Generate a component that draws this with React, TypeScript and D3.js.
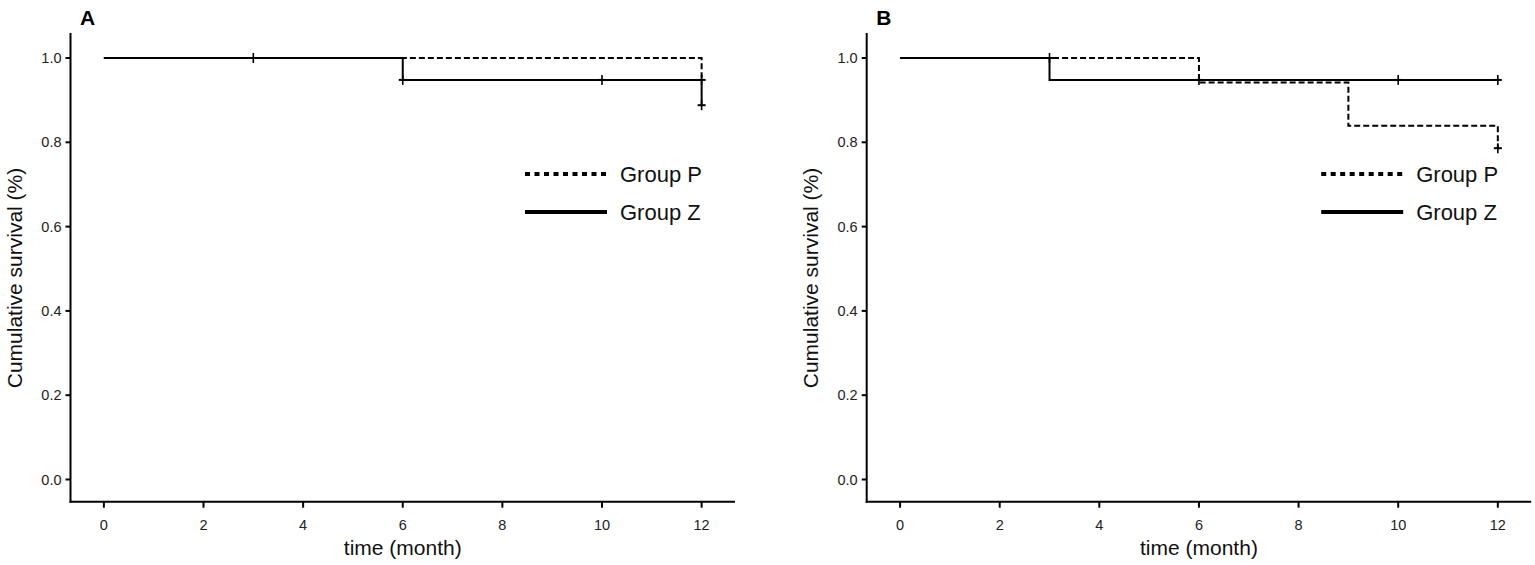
import React from "react";
import * as d3 from "d3";

// Panel A data
const aPTime = [0, 12];
const aPSurv = [1.0, 0.95];
const aZTime = [0, 6, 12];
const aZSurv = [1.0, 0.948, 0.888];
const aPCensorTime = [3];
const aPCensorSurv = [1.0];
const aZCensorTime = [6, 10, 12, 12];
const aZCensorSurv = [0.948, 0.948, 0.948, 0.888];

// Panel B data
const bPTime = [0, 6, 9, 12];
const bPSurv = [1.0, 0.942, 0.839, 0.786];
const bZTime = [0, 3, 12];
const bZSurv = [1.0, 0.948, 0.948];
const bPCensorTime = [3, 12];
const bPCensorSurv = [1.0, 0.786];
const bZCensorTime = [6, 10, 12];
const bZCensorSurv = [0.948, 0.948, 0.948];

const xTicks = [0, 2, 4, 6, 8, 10, 12];
const yTicks = [0, 0.2, 0.4, 0.6, 0.8, 1.0];
const groupNames = ["Group P", "Group Z"];
const panelLabels = ["A", "B"];

const FONT = "'Liberation Sans', Arial, Helvetica, sans-serif";

type Series = { time: number[]; surv: number[]; ct: number[]; cs: number[]; dashed: boolean };

function Panel({ ox, label, series }: { ox: number; label: string; series: Series[] }) {
  const axisX = ox + 70.5;
  const x = d3.scaleLinear().domain([-0.67, 12.67]).range([axisX, ox + 735]);
  const y = d3.scaleLinear().domain([0, 1]).range([479.5, 58]);
  const axisY = 501.7;
  const axisTop = 33;
  const line = d3
    .line<[number, number]>()
    .x((d) => x(d[0]))
    .y((d) => y(d[1]))
    .curve(d3.curveStepAfter);
  const order = [...series].sort((a, b) => (a.dashed === b.dashed ? 0 : a.dashed ? 1 : -1));
  return (
    <g>
      <text x={ox + 80} y={25} fontFamily={FONT} fontWeight="bold" fontSize={21}>
        {label}
      </text>
      {/* axes */}
      <line x1={axisX} x2={axisX} y1={axisTop} y2={axisY + 1} stroke="#000" strokeWidth={2} />
      <line x1={axisX - 1} x2={ox + 735} y1={axisY} y2={axisY} stroke="#000" strokeWidth={2} />
      {yTicks.map((t) => (
        <g key={"y" + t}>
          <line x1={axisX - 5} x2={axisX} y1={y(t)} y2={y(t)} stroke="#000" strokeWidth={2} />
          <text
            x={axisX - 9}
            y={y(t) + 5}
            textAnchor="end"
            fontFamily={FONT}
            fontSize={14.5}
            fill="#222"
          >
            {t.toFixed(1)}
          </text>
        </g>
      ))}
      {xTicks.map((t) => (
        <g key={"x" + t}>
          <line x1={x(t)} x2={x(t)} y1={axisY} y2={axisY + 6} stroke="#000" strokeWidth={2} />
          <text x={x(t)} y={530} textAnchor="middle" fontFamily={FONT} fontSize={14.5} fill="#222">
            {t}
          </text>
        </g>
      ))}
      <text
        x={x(6)}
        y={555}
        textAnchor="middle"
        fontFamily={FONT}
        fontSize={21}
        fill="#111"
      >
        time (month)
      </text>
      <text
        transform={`translate(${ox + 22},${278}) rotate(-90)`}
        textAnchor="middle"
        fontFamily={FONT}
        fontSize={21}
        fill="#111"
      >
        Cumulative survival (%)
      </text>
      {/* curves */}
      {order.map((s, i) => (
        <g key={"s" + i}>
          <path
            d={line(s.time.map((t, j) => [t, s.surv[j]] as [number, number])) || ""}
            fill="none"
            stroke="#000"
            strokeWidth={2}
            strokeDasharray={s.dashed ? "6,3" : undefined}
          />
          {s.ct.map((t, j) => (
            <g key={"c" + j}>
              <line x1={x(t) - 4} x2={x(t) + 4} y1={y(s.cs[j])} y2={y(s.cs[j])} stroke="#000" strokeWidth={2} />
              <line x1={x(t)} x2={x(t)} y1={y(s.cs[j]) - 5} y2={y(s.cs[j]) + 5} stroke="#000" strokeWidth={1.6} />
            </g>
          ))}
        </g>
      ))}
      {/* legend */}
      {groupNames.map((g, i) => {
        const ly = 174 + i * 38;
        return (
          <g key={g}>
            <line
              x1={ox + 525}
              x2={ox + 607}
              y1={ly}
              y2={ly}
              stroke="#000"
              strokeWidth={4}
              strokeDasharray={i === 0 ? "5,4.5" : undefined}
            />
            <text
              x={ox + 620}
              y={ly + 8}
              fontFamily={FONT}
              fontSize={22}
              fill="#111"
            >
              {g}
            </text>
          </g>
        );
      })}
    </g>
  );
}

export default function App() {
  const seriesA: Series[] = [
    { time: aPTime, surv: aPSurv, ct: aPCensorTime, cs: aPCensorSurv, dashed: true },
    { time: aZTime, surv: aZSurv, ct: aZCensorTime, cs: aZCensorSurv, dashed: false },
  ];
  const seriesB: Series[] = [
    { time: bPTime, surv: bPSurv, ct: bPCensorTime, cs: bPCensorSurv, dashed: true },
    { time: bZTime, surv: bZSurv, ct: bZCensorTime, cs: bZCensorSurv, dashed: false },
  ];
  return (
    <svg
      width={1535}
      height={565}
      style={{ position: "absolute", left: 0, top: 0, background: "#fff" }}
    >
      <rect width={1535} height={565} fill="#fff" />
      <Panel ox={0} label={panelLabels[0]} series={seriesA} />
      <Panel ox={796.2} label={panelLabels[1]} series={seriesB} />
    </svg>
  );
}
